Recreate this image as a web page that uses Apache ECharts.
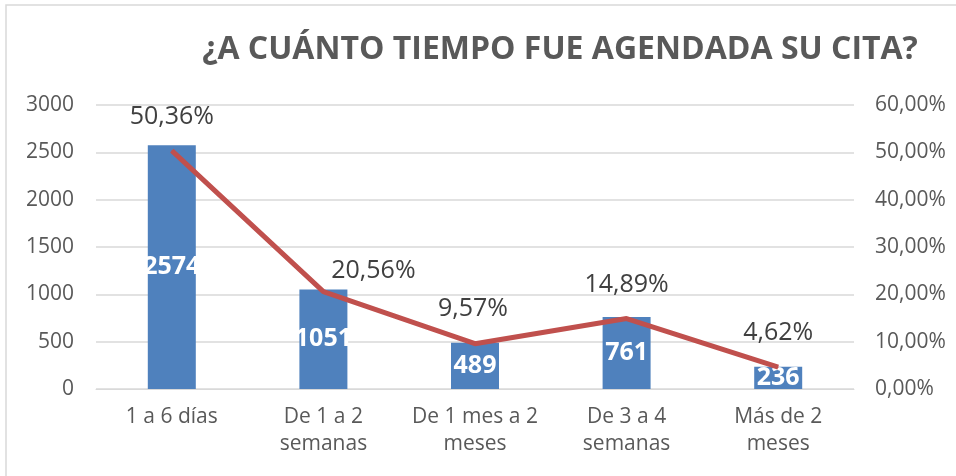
<!DOCTYPE html>
<html>
<head>
<meta charset="utf-8">
<script src="https://cdn.jsdelivr.net/npm/echarts@6/dist/echarts.min.js"></script>
<style>
  html, body { margin: 0; padding: 0; background: #fff; }
  #chart { width: 956px; height: 476px; }
</style>
</head>
<body>
<div id="chart"></div>
<script>
const categories = ["1 a 6 días", "De 1 a 2\nsemanas", "De 1 mes a 2\nmeses", "De 3 a 4\nsemanas", "Más de 2\nmeses"];
const counts = [2574, 1051, 489, 761, 236];
const shares = [0.5036, 0.2056, 0.0957, 0.1489, 0.0462];
// label nudges (px) from each point, following the hand-placed labels of the original
const shareLabelOffsets = [[0, -34], [50, -21], [-2, -35], [0, -34], [0, -34]];

const fmtPct = v => (v * 100).toFixed(2).replace(".", ",") + "%";
const font = "'Open Sans', sans-serif";

const myChart = echarts.init(document.getElementById("chart"));
const option = {
  animation: false,
  textStyle: { fontFamily: font },
  title: {
    text: "¿A CUÁNTO TIEMPO FUE AGENDADA SU CITA?",
    left: 555,
    top: 29,
    textAlign: "center",
    textStyle: { fontSize: 32, fontWeight: "bold", color: "#595959", fontFamily: font }
  },
  graphic: [{
    type: "rect",
    shape: { x: 6, y: 5, width: 960, height: 480 },
    style: { fill: "none", stroke: "#d9d9d9", lineWidth: 1.5 },
    silent: true
  }],
  grid: { left: 96, right: 102, top: 105, bottom: 87 },
  xAxis: {
    type: "category",
    data: categories,
    axisLine: { lineStyle: { color: "#d9d9d9" } },
    axisTick: { show: false },
    axisLabel: { color: "#595959", fontSize: 21, lineHeight: 27, margin: 15, interval: 0 }
  },
  yAxis: [{
    type: "value",
    min: 0, max: 3000, interval: 500,
    axisLine: { show: false },
    axisTick: { show: false },
    splitLine: { lineStyle: { color: "#d9d9d9", width: 1.5 } },
    axisLabel: { color: "#595959", fontSize: 21, margin: 22, formatter: v => String(v) }
  }, {
    type: "value",
    min: 0, max: 0.6, interval: 0.1,
    axisLine: { show: false },
    axisTick: { show: false },
    splitLine: { show: false },
    axisLabel: { color: "#595959", fontSize: 21, margin: 21, formatter: fmtPct }
  }],
  series: [{
    type: "bar",
    data: counts,
    barWidth: 48,
    z: 2,
    itemStyle: { color: "#4F81BD" },
    label: { show: true, position: "inside", color: "#fff", fontSize: 25, fontWeight: "bold" }
  }, {
    type: "line",
    yAxisIndex: 1,
    z: 5,
    data: shares.map((v, i) => ({
      value: v,
      label: { offset: shareLabelOffsets[i] }
    })),
    symbol: "circle",
    symbolSize: 1,
    itemStyle: { color: "#C0504D" },
    lineStyle: { color: "#C0504D", width: 5 },
    label: { show: true, position: "inside", color: "#404040", fontSize: 25, formatter: p => fmtPct(p.value) }
  }]
};
option && myChart.setOption(option);
</script>
</body>
</html>
